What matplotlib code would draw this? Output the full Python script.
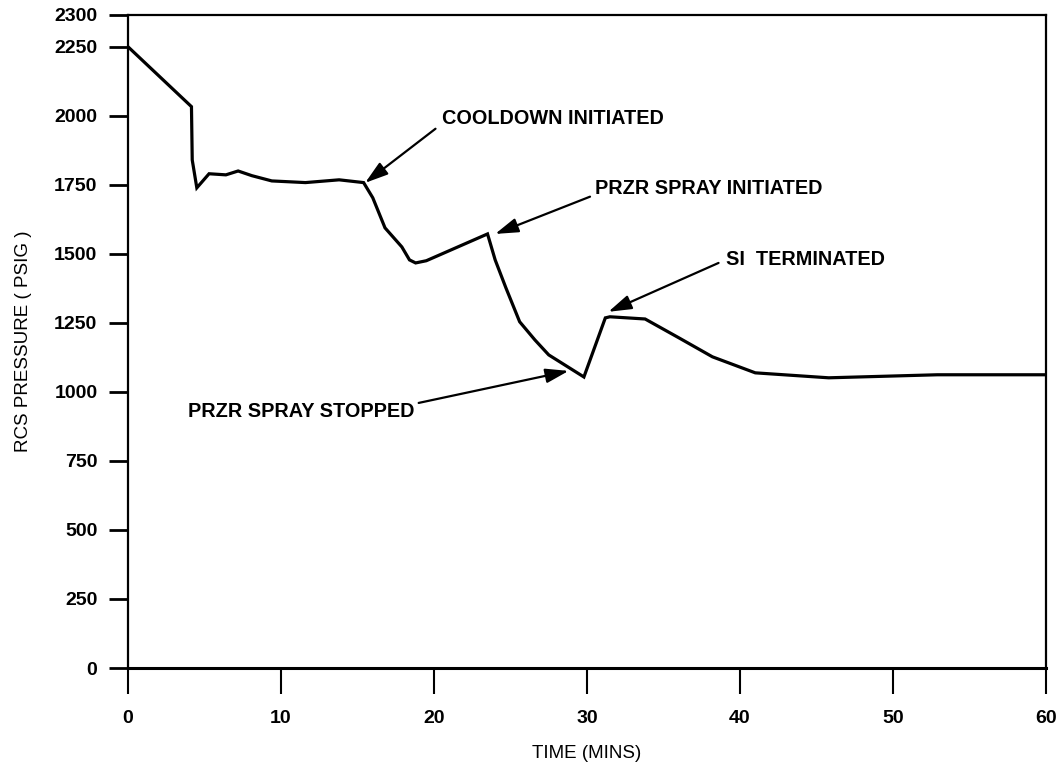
import matplotlib.pyplot as plt

# RCS pressure transient
time_min = [0, 4.15, 4.2, 4.5, 5.3, 6.4, 7.2, 8.1, 9.4, 11.6, 13.8, 15.4,
            16.0, 16.8, 17.9, 18.4, 18.8, 19.5, 23.5, 24.0, 24.7, 25.6, 26.6,
            27.5, 29.8, 31.2, 31.5, 33.8, 36.0, 38.2, 41.0, 45.8, 52.9, 60.0]
pressure = [2250, 2033, 1840, 1739, 1790, 1786, 1800, 1783, 1764, 1758, 1768, 1758,
            1703, 1594, 1525, 1478, 1467, 1475, 1572, 1478, 1377, 1254, 1188,
            1134, 1054, 1268, 1272, 1264, 1196, 1127, 1069, 1051, 1062, 1062]

y_ticks = [0, 250, 500, 750, 1000, 1250, 1500, 1750, 2000, 2250, 2365]
y_tick_labels = ['0', '250', '500', '750', '1000', '1250', '1500', '1750', '2000', '2250', '2300']
x_ticks = [0, 10, 20, 30, 40, 50, 60]

# label text, text anchor (t, P), arrow head (t, P)
notes = [
    ('COOLDOWN INITIATED', (20.5, 1990), (15.5, 1757)),
    ('PRZR SPRAY INITIATED', (30.5, 1735), (24.0, 1572)),
    ('SI  TERMINATED', (39.1, 1480), (31.4, 1290)),
    ('PRZR SPRAY STOPPED', (3.9, 930), (28.8, 1076)),
]
tails = [(20.1, 1953), (30.2, 1707), (38.6, 1467), (19.0, 960)]

plt.rcParams['font.family'] = 'Liberation Sans'
plt.rcParams['font.weight'] = 'bold'

fig = plt.figure(figsize=(10.62, 7.72), dpi=100)
ax = fig.add_axes([0.1205, 0.1347, 0.8644, 0.8459])

ax.plot(time_min, pressure, color='black', linewidth=2.3, solid_joinstyle='miter')

ax.set_xlim(0, 60)
ax.set_ylim(0, 2365)
ax.set_yticks(y_ticks)
ax.set_yticklabels(y_tick_labels)
ax.set_xticks(x_ticks)
ax.tick_params(axis='y', length=14, width=2, pad=8, labelsize=14)
ax.tick_params(axis='x', length=19, width=1.5, pad=11, labelsize=14)
for s in ax.spines.values():
    s.set_linewidth(1.6)
ax.spines['bottom'].set_linewidth(2.2)

ax.set_xlabel('TIME (MINS)', fontsize=13.5, labelpad=13)
ax.set_ylabel('RCS PRESSURE ( PSIG )', fontsize=13.5, fontweight='normal', labelpad=16)

for (label, txt, head), tail in zip(notes, tails):
    ax.text(txt[0], txt[1], label, fontsize=14.3, ha='left', va='center')
    ax.annotate('', xy=head, xytext=tail,
                arrowprops=dict(arrowstyle='-|>,head_length=0.7,head_width=0.22',
                                color='black', lw=1.6,
                                mutation_scale=20, shrinkA=0, shrinkB=0))

fig.savefig('out.png', dpi=100)
